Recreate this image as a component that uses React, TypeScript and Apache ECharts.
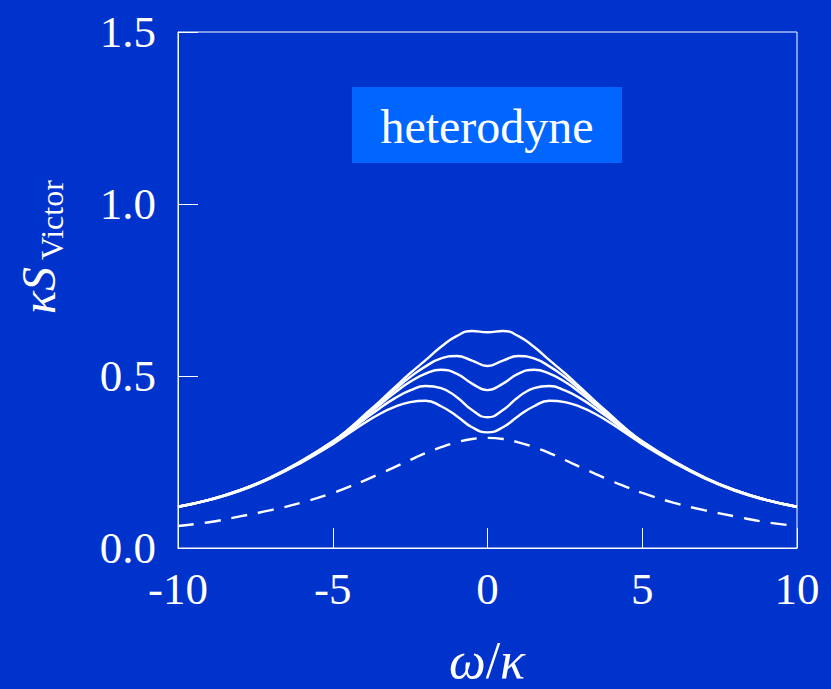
import React, { useEffect, useRef } from "react";
import * as echarts from "echarts";

const xValues = [-10, -9, -8, -7, -6, -5, -4.5, -4, -3.5, -3, -2.5, -2, -1.5, -1, -0.5, 0, 0.5, 1, 1.5, 2, 2.5, 3, 3.5, 4, 4.5, 5, 6, 7, 8, 9, 10];

const curve1 = [0.12, 0.14, 0.168, 0.206, 0.254, 0.31, 0.345, 0.385, 0.425, 0.467, 0.508, 0.546, 0.585, 0.616, 0.631, 0.627, 0.631, 0.616, 0.585, 0.546, 0.508, 0.467, 0.425, 0.385, 0.345, 0.31, 0.254, 0.206, 0.168, 0.14, 0.12];
const curve2 = [0.12, 0.14, 0.168, 0.205, 0.253, 0.309, 0.343, 0.382, 0.421, 0.46, 0.497, 0.528, 0.551, 0.558, 0.545, 0.529, 0.545, 0.558, 0.551, 0.528, 0.497, 0.46, 0.421, 0.382, 0.343, 0.309, 0.253, 0.205, 0.168, 0.14, 0.12];
const curve3 = [0.12, 0.14, 0.168, 0.205, 0.252, 0.308, 0.341, 0.378, 0.415, 0.451, 0.483, 0.507, 0.518, 0.507, 0.478, 0.459, 0.478, 0.507, 0.518, 0.507, 0.483, 0.451, 0.415, 0.378, 0.341, 0.308, 0.252, 0.205, 0.168, 0.14, 0.12];
const curve4 = [0.12, 0.14, 0.167, 0.204, 0.251, 0.306, 0.338, 0.372, 0.405, 0.435, 0.458, 0.471, 0.465, 0.439, 0.401, 0.38, 0.401, 0.439, 0.465, 0.471, 0.458, 0.435, 0.405, 0.372, 0.338, 0.306, 0.251, 0.204, 0.167, 0.14, 0.12];
const curve5 = [0.119, 0.139, 0.166, 0.203, 0.249, 0.302, 0.332, 0.362, 0.389, 0.41, 0.424, 0.428, 0.412, 0.384, 0.351, 0.336, 0.351, 0.384, 0.412, 0.428, 0.424, 0.41, 0.389, 0.362, 0.332, 0.302, 0.249, 0.203, 0.166, 0.139, 0.119];
const dashedCurve = [0.064, 0.075, 0.092, 0.11, 0.132, 0.16, 0.177, 0.195, 0.215, 0.235, 0.256, 0.276, 0.293, 0.307, 0.317, 0.32, 0.317, 0.307, 0.293, 0.276, 0.256, 0.235, 0.215, 0.195, 0.177, 0.16, 0.132, 0.11, 0.092, 0.075, 0.064];

const solidCurves = [curve1, curve2, curve3, curve4, curve5];

const BG = "#0033cc";
const FONT = "'Liberation Serif', serif";

export default function App() {
  const ref = useRef<HTMLDivElement>(null);

  useEffect(() => {
    document.body.style.margin = "0";
    const chart = echarts.init(ref.current!, undefined, { renderer: "svg" });
    const toPairs = (ys: number[]) => xValues.map((x, i) => [x, ys[i]]);

    const series: any[] = solidCurves.map((c, i) => ({
      type: "line",
      name: "c" + (i + 1),
      data: toPairs(c),
      smooth: 0.5,
      showSymbol: false,
      lineStyle: { color: "#ffffff", width: 2.4 },
      z: 3,
    }));
    series.push({
      type: "line",
      name: "dashed",
      data: toPairs(dashedCurve),
      smooth: 0.5,
      showSymbol: false,
      lineStyle: { color: "#ffffff", width: 2.4, type: [16, 11] },
      z: 3,
    });

    chart.setOption({
      animation: false,
      backgroundColor: BG,
      grid: {
        left: 178,
        right: 34,
        top: 32,
        bottom: 141,
        show: true,
        borderColor: "#ffffff",
        borderWidth: 1,
        backgroundColor: "transparent",
      },
      xAxis: {
        type: "value",
        min: -10,
        max: 10,
        interval: 5,
        axisLine: { show: true, onZero: false, lineStyle: { color: "#ffffff", width: 1 } },
        axisTick: { show: true, inside: true, length: 20, lineStyle: { color: "#ffffff", width: 1 } },
        splitLine: { show: false },
        axisLabel: {
          color: "#ffffff",
          fontFamily: FONT,
          fontSize: 45,
          margin: 18,
          formatter: (v: number) => String(v),
        },
      },
      yAxis: {
        type: "value",
        min: 0,
        max: 1.5,
        interval: 0.5,
        axisLine: { show: true, onZero: false, lineStyle: { color: "#ffffff", width: 1 } },
        axisTick: { show: true, inside: true, length: 20, lineStyle: { color: "#ffffff", width: 1 } },
        splitLine: { show: false },
        axisLabel: {
          color: "#ffffff",
          fontFamily: FONT,
          fontSize: 45,
          margin: 22,
          formatter: (v: number) => v.toFixed(1),
        },
      },
      graphic: [
        {
          type: "rect",
          shape: { x: 352, y: 87, width: 270, height: 76 },
          style: { fill: "#0066ff" },
          z: 10,
        },
        {
          type: "text",
          x: 487,
          y: 126,
          style: {
            text: "heterodyne",
            fill: "#ffffff",
            font: "48px " + FONT,
            textAlign: "center",
            textVerticalAlign: "middle",
          },
          z: 11,
        },
        {
          type: "text",
          x: 62,
          y: 314,
          rotation: Math.PI / 2,
          style: {
            text: "κS",
            fill: "#ffffff",
            font: "italic 48px " + FONT,
            textAlign: "left",
            textVerticalAlign: "bottom",
          },
        },
        {
          type: "text",
          x: 68,
          y: 260,
          rotation: Math.PI / 2,
          style: {
            text: "Victor",
            fill: "#ffffff",
            font: "32px " + FONT,
            textAlign: "left",
            textVerticalAlign: "bottom",
          },
        },
        {
          type: "text",
          x: 487,
          y: 660,
          style: {
            text: "{i|ω}{n|/}{i|κ}",
            fill: "#ffffff",
            textAlign: "center",
            textVerticalAlign: "middle",
            rich: {
              i: { fontFamily: FONT, fontStyle: "italic", fontSize: 52, fill: "#ffffff", color: "#ffffff" },
              n: { fontFamily: FONT, fontSize: 52, fill: "#ffffff", color: "#ffffff" },
            },
          },
        },
      ],
      series,
    });

    return () => chart.dispose();
  }, []);

  return <div ref={ref} style={{ width: 831, height: 689, background: BG }} />;
}
